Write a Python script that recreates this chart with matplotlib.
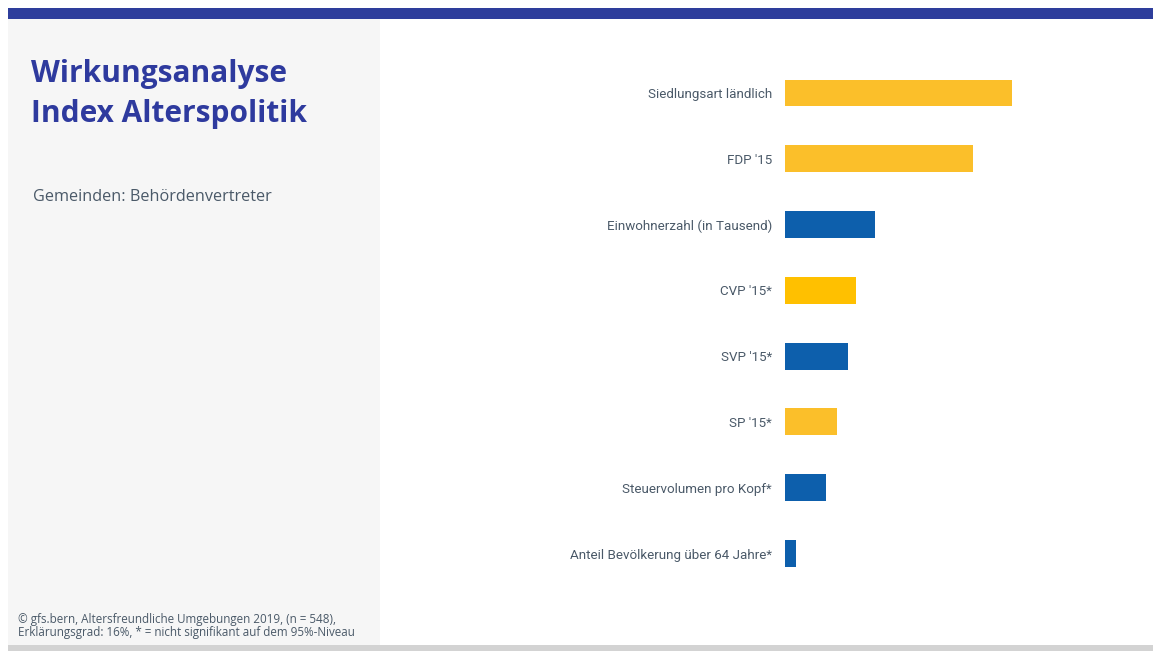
import matplotlib.pyplot as plt
from matplotlib.patches import Rectangle

# Regression effects on the "Index Alterspolitik" (municipal officials)
categories = [
    "Siedlungsart ländlich",
    "FDP '15",
    "Einwohnerzahl (in Tausend)",
    "CVP '15*",
    "SVP '15*",
    "SP '15*",
    "Steuervolumen pro Kopf*",
    "Anteil Bevölkerung über 64 Jahre*",
]
effects = [0.227, 0.188, 0.090, 0.071, 0.063, 0.052, 0.041, 0.011]
bar_colors = ["#FBBF2A", "#FBBF2A", "#0D5FAC", "#FFC000",
              "#0D5FAC", "#FBBF2A", "#0D5FAC", "#0D5FAC"]

title_lines = ["Wirkungsanalyse", "Index Alterspolitik"]
subtitle = "Gemeinden: Behördenvertreter"
footnote = ("© gfs.bern, Altersfreundliche Umgebungen 2019, (n = 548),\n"
            "Erklärungsgrad: 16%, * = nicht signifikant auf dem 95%-Niveau")

W, H = 1153, 651
fig = plt.figure(figsize=(W / 100, H / 100), dpi=100)
fig.patch.set_facecolor("white")


def px_box(x0, y0, x1, y1):
    """Figure-fraction rectangle from pixel coordinates (origin top-left)."""
    return (x0 / W, 1 - y1 / H, (x1 - x0) / W, (y1 - y0) / H)


# page decoration
bg = fig.add_axes([0, 0, 1, 1])
bg.set_xlim(0, W)
bg.set_ylim(H, 0)
bg.axis("off")
bg.add_patch(Rectangle((8, 19), 372, 626, color="#F6F6F6", lw=0))
bg.add_patch(Rectangle((8, 8), W - 8, 11, color="#2E3E9C", lw=0))
bg.add_patch(Rectangle((8, 645), W - 8, 6, color="#D3D3D3", lw=0))

text_grey = "#4A5968"
bg.text(31, 82, title_lines[0], fontsize=21.5, fontweight="bold",
        color="#2E3A9E", family="Open Sans", va="baseline")
bg.text(31, 122, title_lines[1], fontsize=21.5, fontweight="bold",
        color="#2E3A9E", family="Open Sans", va="baseline")
bg.text(33, 197, subtitle, fontsize=11.7, color=text_grey,
        family="Open Sans", va="center")
bg.text(18, 626, footnote, fontsize=8.4, color=text_grey,
        family="Open Sans", va="center", linespacing=0.95)

# bar chart
ax = fig.add_axes(px_box(785, 60.1, 1100, 586.4))
ypos = list(range(len(categories)))
ax.barh(ypos, effects, height=0.41, color=bar_colors, linewidth=0)
ax.set_xlim(0, 0.315)
ax.set_ylim(len(categories) - 0.5, -0.5)
ax.set_yticks(ypos)
ax.set_yticklabels(categories, fontsize=9.6, color=text_grey, family="Roboto")
ax.tick_params(axis="y", length=0, pad=9.4)
ax.set_xticks([])
for s in ax.spines.values():
    s.set_visible(False)
ax.patch.set_alpha(0)

fig.savefig("out.png", dpi=100)
